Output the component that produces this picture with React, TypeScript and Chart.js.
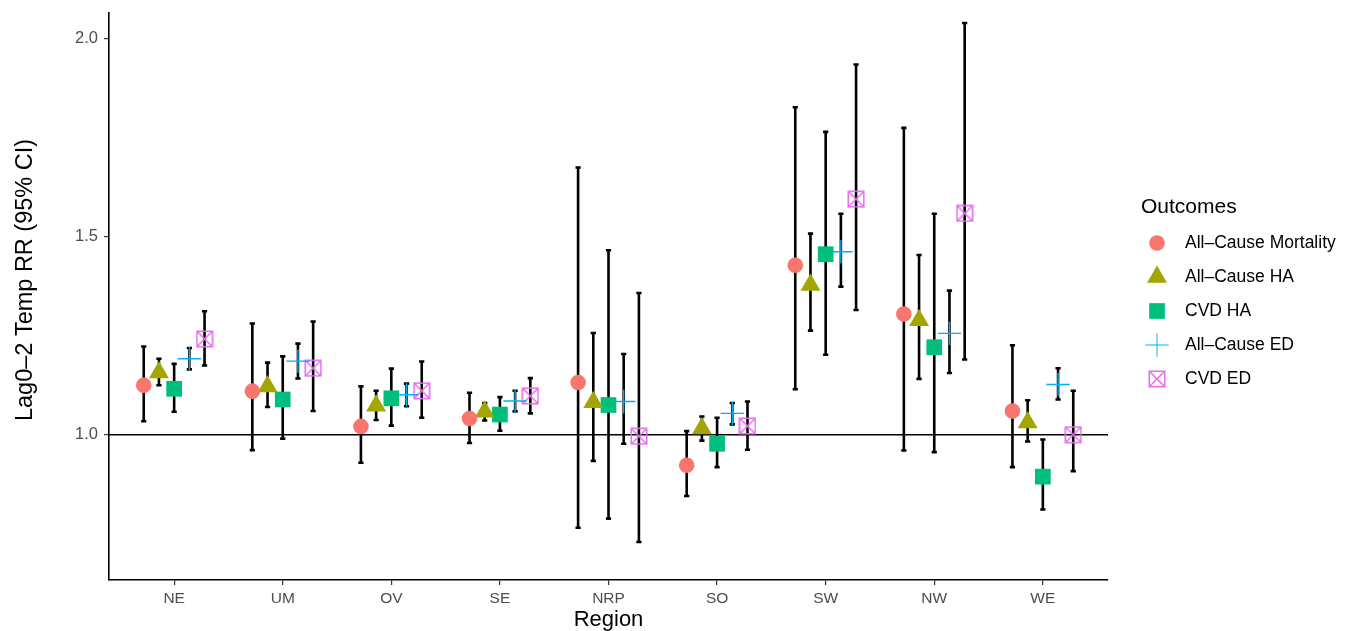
import React, { useEffect, useRef } from 'react';
import { Chart, registerables } from 'chart.js';
import { drawPoint } from 'chart.js/helpers';

Chart.register(...registerables);

const regions = ['NE', 'UM', 'OV', 'SE', 'NRP', 'SO', 'SW', 'NW', 'WE'];
const outcomeNames = ['All–Cause Mortality', 'All–Cause HA', 'CVD HA', 'All–Cause ED', 'CVD ED'];
const yTicks = [1.0, 1.5, 2.0];

const mortalityEst = [1.125, 1.110, 1.021, 1.041, 1.132, 0.923, 1.428, 1.305, 1.060];
const mortalityLo = [1.034, 0.961, 0.929, 0.979, 0.765, 0.845, 1.115, 0.960, 0.918];
const mortalityHi = [1.223, 1.281, 1.122, 1.106, 1.675, 1.009, 1.827, 1.775, 1.226];

const allHaEst = [1.157, 1.122, 1.073, 1.058, 1.082, 1.016, 1.378, 1.289, 1.031];
const allHaLo = [1.125, 1.070, 1.037, 1.036, 0.934, 0.985, 1.263, 1.141, 0.983];
const allHaHi = [1.192, 1.182, 1.111, 1.080, 1.257, 1.046, 1.508, 1.454, 1.087];

const cvdHaEst = [1.116, 1.089, 1.092, 1.051, 1.075, 0.977, 1.456, 1.221, 0.894];
const cvdHaLo = [1.058, 0.990, 1.023, 1.010, 0.788, 0.918, 1.202, 0.956, 0.811];
const cvdHaHi = [1.179, 1.198, 1.167, 1.095, 1.466, 1.043, 1.765, 1.558, 0.988];

const allEdEst = [1.192, 1.186, 1.101, 1.085, 1.084, 1.054, 1.462, 1.256, 1.127];
const allEdLo = [1.165, 1.142, 1.072, 1.059, 0.977, 1.026, 1.374, 1.156, 1.089];
const allEdHi = [1.219, 1.230, 1.129, 1.111, 1.204, 1.080, 1.558, 1.364, 1.168];

const cvdEdEst = [1.242, 1.168, 1.111, 1.098, 0.996, 1.022, 1.595, 1.559, 1.000];
const cvdEdLo = [1.175, 1.060, 1.043, 1.054, 0.729, 0.962, 1.315, 1.190, 0.908];
const cvdEdHi = [1.312, 1.286, 1.185, 1.143, 1.358, 1.084, 1.935, 2.040, 1.111];

const DODGE = [-0.28, -0.14, 0, 0.14, 0.28];
const FONT = "'Liberation Sans', Arial, Helvetica, sans-serif";

function makeBoxX(color: string): HTMLCanvasElement {
  const c = document.createElement('canvas');
  c.width = 18;
  c.height = 18;
  const g = c.getContext('2d')!;
  g.strokeStyle = color;
  g.lineWidth = 1.5;
  g.strokeRect(1.25, 1.25, 15.5, 15.5);
  g.beginPath();
  g.moveTo(1.25, 1.25);
  g.lineTo(16.75, 16.75);
  g.moveTo(16.75, 1.25);
  g.lineTo(1.25, 16.75);
  g.stroke();
  return c;
}

export default function App() {
  const ref = useRef<HTMLCanvasElement>(null);

  useEffect(() => {
    const boxX = makeBoxX('#E76BF3');
    const series = [
      { name: outcomeNames[0], est: mortalityEst, lo: mortalityLo, hi: mortalityHi, color: '#F8766D', style: 'circle' as any, radius: 7.8, border: 0 },
      { name: outcomeNames[1], est: allHaEst, lo: allHaLo, hi: allHaHi, color: '#A3A500', style: 'triangle' as any, radius: 11.5, border: 0 },
      { name: outcomeNames[2], est: cvdHaEst, lo: cvdHaLo, hi: cvdHaHi, color: '#00BF7D', style: 'rect' as any, radius: 11.1, border: 0 },
      { name: outcomeNames[3], est: allEdEst, lo: allEdLo, hi: allEdHi, color: '#00B0F6', style: 'cross' as any, radius: 11.7, border: 1.4 },
      { name: outcomeNames[4], est: cvdEdEst, lo: cvdEdLo, hi: cvdEdHi, color: '#E76BF3', style: boxX as any, radius: 9, border: 0 },
    ];

    const errorBars = {
      id: 'errorBars',
      beforeDatasetsDraw(chart: any) {
        const { ctx, chartArea, scales } = chart;
        const xs = scales.x;
        const ys = scales.y;
        ctx.save();
        const y1 = ys.getPixelForValue(1);
        ctx.strokeStyle = '#000';
        ctx.lineWidth = 1.5;
        ctx.beginPath();
        ctx.moveTo(chartArea.left, y1);
        ctx.lineTo(chartArea.right, y1);
        ctx.stroke();
        ctx.lineWidth = 2.6;
        series.forEach((s, i) => {
          s.est.forEach((_, j) => {
            const px = xs.getPixelForValue(j + DODGE[i]);
            const pLo = ys.getPixelForValue(s.lo[j]);
            const pHi = ys.getPixelForValue(s.hi[j]);
            ctx.beginPath();
            ctx.moveTo(px, pLo);
            ctx.lineTo(px, pHi);
            ctx.moveTo(px - 2.6, pLo);
            ctx.lineTo(px + 2.6, pLo);
            ctx.moveTo(px - 2.6, pHi);
            ctx.lineTo(px + 2.6, pHi);
            ctx.stroke();
          });
        });
        ctx.restore();
      },
    };

    const textPlugin = {
      id: 'customText',
      afterDraw(chart: any) {
        const { ctx, chartArea } = chart;
        ctx.save();
        ctx.fillStyle = '#000';
        ctx.textAlign = 'center';
        ctx.textBaseline = 'middle';
        ctx.font = `22px ${FONT}`;
        ctx.fillText('Region', (chartArea.left + chartArea.right) / 2, 620);
        ctx.font = `23.5px ${FONT}`;
        ctx.translate(26, 280);
        ctx.rotate(-Math.PI / 2);
        ctx.fillText('Lag0–2 Temp RR (95% CI)', 0, 0);
        ctx.restore();

        ctx.save();
        ctx.fillStyle = '#000';
        ctx.textBaseline = 'middle';
        ctx.textAlign = 'left';
        ctx.font = `21px ${FONT}`;
        ctx.fillText('Outcomes', 1141, 207);
        ctx.font = `17.5px ${FONT}`;
        series.forEach((s, i) => {
          const cy = 243 + i * 34;
          ctx.fillStyle = s.color;
          ctx.strokeStyle = s.color;
          drawPoint(ctx, { pointStyle: s.style, radius: s.radius, rotation: 0, borderWidth: s.border } as any, 1157, cy);
          ctx.fillStyle = '#000';
          ctx.fillText(s.name, 1185, cy + 0.5);
        });
        ctx.restore();
      },
    };

    const chart = new Chart(ref.current!, {
      type: 'scatter',
      data: {
        datasets: series.map((s, i) => ({
          label: s.name,
          data: s.est.map((v, j) => ({ x: j + DODGE[i], y: v })),
          pointStyle: s.style,
          pointRadius: s.radius,
          pointHoverRadius: s.radius,
          backgroundColor: s.color,
          borderColor: s.color,
          pointBorderWidth: s.border,
          borderWidth: s.border,
        })),
      },
      options: {
        animation: false,
        responsive: false,
        events: [],
        layout: { padding: { left: 0, right: 240, top: 10, bottom: 0 } },
        plugins: { legend: { display: false }, tooltip: { enabled: false } },
        scales: {
          x: {
            type: 'linear',
            min: -0.6,
            max: 8.6,
            afterFit(scale: any) { scale.height = 51; scale.paddingLeft = 0; scale.paddingRight = 0; },
            afterBuildTicks(scale: any) { scale.ticks = regions.map((_, i) => ({ value: i })); },
            ticks: {
              callback: (v: any) => regions[Math.round(Number(v))] ?? '',
              color: '#4D4D4D',
              font: { family: FONT, size: 15.5 },
              padding: 4,
              maxRotation: 0,
              autoSkip: false,
            },
            grid: { drawOnChartArea: false, drawTicks: true, tickLength: 5, color: '#333', lineWidth: 1.2 },
            border: { display: true, color: '#000', width: 1.6 },
            title: { display: false },
          },
          y: {
            type: 'linear',
            min: 0.633,
            max: 2.065,
            afterFit(scale: any) { scale.width = 109; scale.paddingTop = 0; scale.paddingBottom = 0; },
            afterBuildTicks(scale: any) { scale.ticks = yTicks.map((v) => ({ value: v })); },
            ticks: {
              callback: (v: any) => Number(v).toFixed(1),
              color: '#4D4D4D',
              font: { family: FONT, size: 16.5 },
              padding: 6,
            },
            grid: { drawOnChartArea: false, drawTicks: true, tickLength: 5, color: '#333', lineWidth: 1.2 },
            border: { display: true, color: '#000', width: 1.6 },
            title: { display: false },
          },
        },
      },
      plugins: [errorBars, textPlugin],
    });
    return () => chart.destroy();
  }, []);

  return (
    <div style={{ position: 'fixed', left: 0, top: 0, width: 1348, height: 631, background: '#fff' }}>
      <canvas ref={ref} width={1348} height={631} style={{ display: 'block', width: 1348, height: 631 }} />
    </div>
  );
}
